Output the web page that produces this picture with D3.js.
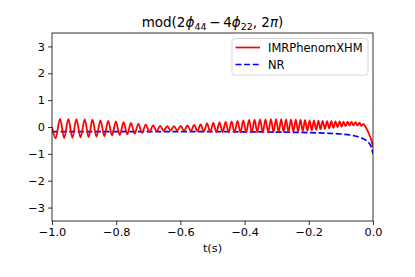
<!DOCTYPE html>
<html><head><meta charset="utf-8">
<script src="https://cdn.jsdelivr.net/npm/d3@7"></script>
<style>body{margin:0;background:#fff}svg{display:block}text{font-family:"DejaVu Sans",sans-serif;fill:#000}</style>
</head><body><div id="chart"></div>
<script>
// ---- data ----
const xTicks = [-1.0, -0.8, -0.6, -0.4, -0.2, 0.0];
const yTicks = [-3, -2, -1, 0, 1, 2, 3];
const seriesNames = ["IMRPhenomXHM", "NR"];

// IMRPhenomXHM: oscillation extremes (alternating trough / peak) and the final drop
const redT = [-1.0, -0.989,
 -0.975, -0.962, -0.949, -0.9365, -0.924, -0.911, -0.898, -0.886, -0.874, -0.8615,
 -0.849, -0.837, -0.825, -0.813, -0.801, -0.789, -0.777, -0.7655, -0.754, -0.7425,
 -0.731, -0.7195, -0.708, -0.6965, -0.685, -0.674, -0.663, -0.652, -0.641, -0.6305,
 -0.620, -0.6095, -0.599, -0.5885, -0.578, -0.5675, -0.557, -0.547, -0.537, -0.527,
 -0.517, -0.507, -0.4975, -0.4878, -0.478, -0.4685, -0.459, -0.4498, -0.4405, -0.4313,
 -0.422, -0.413, -0.404, -0.395, -0.386, -0.3775, -0.369, -0.3605, -0.352, -0.3435,
 -0.335, -0.3265, -0.318, -0.310, -0.302, -0.294, -0.286, -0.2785, -0.271, -0.2633,
 -0.2555, -0.248, -0.2405, -0.2333, -0.226, -0.219, -0.2115, -0.2045, -0.1975, -0.1908,
 -0.184, -0.177, -0.170, -0.1635, -0.157, -0.150, -0.143, -0.1365, -0.130, -0.1235,
 -0.117, -0.1105, -0.104, -0.098, -0.092, -0.0855, -0.079, -0.073, -0.067, -0.0608,
 -0.0545, -0.0483, -0.042, -0.036, -0.0305, -0.023, -0.012, -0.0045, 0.0];
const redV = [0.0, -0.42,
 0.30, -0.41, 0.30, -0.40, 0.29, -0.39, 0.28, -0.38, 0.27, -0.36,
 0.25, -0.34, 0.23, -0.32, 0.21, -0.30, 0.18, -0.27, 0.15, -0.25,
 0.12, -0.22, 0.09, -0.19, 0.06, -0.16, 0.04, -0.14, 0.03, -0.13,
 0.03, -0.13, 0.04, -0.14, 0.06, -0.15, 0.08, -0.16, 0.10, -0.17,
 0.13, -0.18, 0.15, -0.19, 0.17, -0.19, 0.19, -0.20, 0.21, -0.20,
 0.23, -0.20, 0.25, -0.20, 0.26, -0.20, 0.27, -0.20, 0.28, -0.20,
 0.28, -0.20, 0.29, -0.19, 0.29, -0.19, 0.29, -0.18, 0.28, -0.18,
 0.28, -0.17, 0.27, -0.16, 0.27, -0.15, 0.26, -0.14, 0.25, -0.12,
 0.25, -0.11, 0.24, -0.09, 0.23, -0.07, 0.22, -0.05, 0.22, -0.03,
 0.21, -0.01, 0.21, 0.01, 0.20, 0.03, 0.20, 0.05, 0.19, 0.06,
 0.18, 0.06, 0.16, 0.04, 0.12, 0.0, -0.27, -0.52, -0.75];

// NR
const blueT = [-1.0, -0.8, -0.6, -0.4, -0.3, -0.2, -0.15, -0.1, -0.07, -0.04, -0.02, -0.01, -0.004, 0.0];
const blueV = [-0.17, -0.17, -0.17, -0.18, -0.19, -0.21, -0.23, -0.26, -0.30, -0.39, -0.51, -0.64, -0.80, -1.0];

// ---- layout ----
const W = 415, H = 277;
const L = 52, R = 373, T = 33, B = 221;

const svg = d3.select("#chart").append("svg").attr("width", W).attr("height", H);
const x = d3.scaleLinear().domain([-1.0, 0.0]).range([L, R]);
const y = d3.scaleLinear().domain([-3.5, 3.5]).range([B, T]);

svg.append("defs").append("clipPath").attr("id", "clip")
  .append("rect").attr("x", L).attr("y", T).attr("width", R - L).attr("height", B - T);

const fmtX = d => d3.format(".1f")(d).replace("-", "\u2212");
const fmtY = d => String(d).replace("-", "\u2212");

const xAxis = svg.append("g").attr("transform", `translate(0,${B})`)
  .call(d3.axisBottom(x).tickValues(xTicks).tickFormat(fmtX).tickSizeOuter(0).tickSize(4).tickPadding(3));
const yAxis = svg.append("g").attr("transform", `translate(${L},0)`)
  .call(d3.axisLeft(y).tickValues(yTicks).tickFormat(fmtY).tickSizeOuter(0).tickSize(4).tickPadding(3));
[xAxis, yAxis].forEach(g => {
  g.select(".domain").remove();
  g.selectAll("line").attr("stroke", "#000").attr("stroke-width", 0.8);
  g.selectAll("text").style("font-family", '"DejaVu Sans", sans-serif').style("font-size", "11.3px").attr("fill", "#000");
});

const plot = svg.append("g").attr("clip-path", "url(#clip)");
const redData = redT.map((t, i) => [t, redV[i]]);
const blueData = blueT.map((t, i) => [t, blueV[i]]);

plot.append("path").datum(blueData)
  .attr("d", d3.line().x(d => x(d[0])).y(d => y(d[1])).curve(d3.curveMonotoneX))
  .attr("fill", "none").attr("stroke", "#0000ff").attr("stroke-width", 1.7)
  .attr("stroke-dasharray", "6,2.6");
plot.append("path").datum(redData)
  .attr("d", d3.line().x(d => x(d[0])).y(d => y(d[1])).curve(d3.curveMonotoneX))
  .attr("fill", "none").attr("stroke", "#ff0000").attr("stroke-width", 1.8);

// frame
svg.append("rect").attr("x", L).attr("y", T).attr("width", R - L).attr("height", B - T)
  .attr("fill", "none").attr("stroke", "#000").attr("stroke-width", 0.8);

// x label
svg.append("text").attr("x", (L + R) / 2).attr("y", 252).attr("text-anchor", "middle")
  .style("font-size", "11.3px").text("t(s)");

// title
const title = svg.append("text").attr("x", (L + R) / 2).attr("y", 27).attr("text-anchor", "middle")
  .style("font-size", "13.5px");
title.append("tspan").text("mod(2");
title.append("tspan").style("font-style", "italic").text("\u03d5");
title.append("tspan").attr("dy", 3).style("font-size", "9.5px").text("44");
title.append("tspan").attr("dy", -3).text("\u2009\u2212\u20094");
title.append("tspan").style("font-style", "italic").text("\u03d5");
title.append("tspan").attr("dy", 3).style("font-size", "9.5px").text("22");
title.append("tspan").attr("dy", -3).text(", 2");
title.append("tspan").style("font-style", "italic").text("\u03c0");
title.append("tspan").text(")");

// legend
const lg = svg.append("g");
lg.append("rect").attr("x", 232).attr("y", 38.5).attr("width", 136).attr("height", 36.5)
  .attr("rx", 2.5).attr("fill", "#fff").attr("fill-opacity", 0.8)
  .attr("stroke", "#cccccc").attr("stroke-width", 0.8);
const legendColors = ["#ff0000", "#0000ff"];
const legendDash = [null, "6,2.6"];
seriesNames.forEach((name, i) => {
  const yy = 47.5 + i * 17;
  lg.append("line").attr("x1", 235.5).attr("x2", 260).attr("y1", yy).attr("y2", yy)
    .attr("stroke", legendColors[i]).attr("stroke-width", 1.7)
    .attr("stroke-dasharray", legendDash[i]);
  lg.append("text").attr("x", 268).attr("y", yy + 4).style("font-size", "11.5px").text(name);
});
</script></body></html>
